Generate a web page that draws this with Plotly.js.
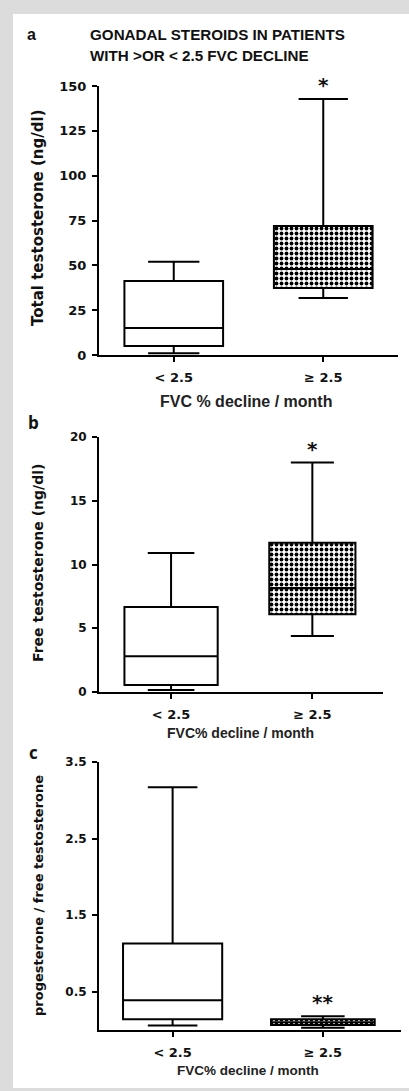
<!DOCTYPE html>
<html>
<head>
<meta charset="utf-8">
<script src="https://cdn.plot.ly/plotly-3.0.1.min.js"></script>
<style>html,body{margin:0;padding:0;background:#dcdcdc;}#chart{width:409px;height:1091px;}</style>
</head>
<body>
<div id="chart"></div>
<script>
// ---- data (five-number summaries: lowerfence, q1, median, q3, upperfence)
const groups = ['&lt; 2.5', '≥ 2.5'];
const totalT_low  = [1, 5, 15, 41.3, 52];
const totalT_high = [31.8, 37.4, 48, 72, 142.8];
const freeT_low   = [0.15, 0.55, 2.8, 6.67, 10.9];
const freeT_high  = [4.4, 6.1, 8.15, 11.7, 18.0];
const ratio_low   = [0.06, 0.14, 0.39, 1.13, 3.17];
const ratio_high  = [0.03, 0.065, 0.1, 0.14, 0.18];
const ticksA = [0, 25, 50, 75, 100, 125, 150];
const ticksB = [0, 5, 10, 15, 20];
const ticksC = [0.5, 1.5, 2.5, 3.5];

const W = 409, H = 1091;
const px = v => v / W;
const py = v => 1 - v / H;

function boxTrace(stats, pos, xa, ya, width, ww, fill) {
  return {
    type: 'box', x: [pos], xaxis: xa, yaxis: ya,
    lowerfence: [stats[0]], q1: [stats[1]], median: [stats[2]], q3: [stats[3]], upperfence: [stats[4]],
    width: width, whiskerwidth: ww, fillcolor: fill,
    line: {color: 'black', width: 2}, boxpoints: false, hoverinfo: 'skip', showlegend: false
  };
}
function patternBar(stats, pos, xa, ya, width) {
  return {
    type: 'bar', x: [pos], base: [stats[1]], y: [stats[3] - stats[1]], xaxis: xa, yaxis: ya,
    width: width, hoverinfo: 'skip', showlegend: false,
    marker: {color: 'white', line: {width: 0},
      pattern: {shape: '.', fgcolor: 'black', bgcolor: 'white', size: 5, solidity: 0.45}}
  };
}

const data = [
  patternBar(totalT_high, 1, 'x', 'y', 0.66),
  boxTrace(totalT_low, 0, 'x', 'y', 0.66, 0.52, 'white'),
  boxTrace(totalT_high, 1, 'x', 'y', 0.66, 0.5, 'rgba(0,0,0,0)'),
  patternBar(freeT_high, 1, 'x2', 'y2', 0.61),
  boxTrace(freeT_low, 0, 'x2', 'y2', 0.66, 0.5, 'white'),
  boxTrace(freeT_high, 1, 'x2', 'y2', 0.61, 0.5, 'rgba(0,0,0,0)'),
  patternBar(ratio_high, 1, 'x3', 'y3', 0.69),
  boxTrace(ratio_low, 0, 'x3', 'y3', 0.66, 0.5, 'white'),
  boxTrace(ratio_high, 1, 'x3', 'y3', 0.69, 0.42, 'rgba(0,0,0,0)')
];

const tickFont = s => ({family: 'DejaVu Sans', size: s, color: '#111', weight: 'bold'});
function yax(domain, range, tickvals, anchor, fs) {
  return {domain, range, tickvals, anchor, showline: true, linecolor: 'black', linewidth: 2,
    ticks: 'outside', ticklen: 5, tickwidth: 2, tickcolor: 'black', showgrid: false, zeroline: false,
    tickfont: tickFont(fs), ticklabelstandoff: 3, fixedrange: true};
}
function xax(domain, range, anchor, fs) {
  return {domain, range, anchor, tickvals: [0, 1], ticktext: groups, showline: true, linecolor: 'black',
    linewidth: 2, ticks: 'outside', ticklen: 5, tickwidth: 2, tickcolor: 'black', showgrid: false,
    zeroline: false, tickfont: tickFont(fs), ticklabelstandoff: 4, fixedrange: true};
}

const txt = (text, x, y, font, extra) => Object.assign({text, x: px(x), y: py(y), xref: 'paper', yref: 'paper',
  xanchor: 'center', yanchor: 'middle', showarrow: false, font}, extra || {});
const labFont = (fam, s, w, c) => ({family: fam, size: s, color: c || '#111', weight: w || 'bold'});

const annotations = [
  txt('a', 31, 35, labFont('Liberation Sans', 16)),
  txt('GONADAL STEROIDS IN PATIENTS', 88, 35, labFont('Liberation Sans', 15.2), {xanchor: 'left'}),
  txt('WITH &gt;OR &lt; 2.5 FVC DECLINE', 88, 55, labFont('Liberation Sans', 15.2), {xanchor: 'left'}),
  txt('Total testosterone (ng/dl)', 38, 218, labFont('DejaVu Sans', 15), {textangle: -90}),
  txt('FVC % decline / month', 246, 401, labFont('Liberation Sans', 16, 'bold', '#222')),
  txt('b', 33, 423, labFont('Open Sans', 17)),
  txt('Free testosterone (ng/dl)', 38, 563, labFont('DejaVu Sans', 14), {textangle: -90}),
  txt('FVC% decline / month', 240, 733, labFont('Liberation Sans', 14, 'bold', '#222')),
  txt('c', 33, 752, labFont('Open Sans', 17)),
  txt('progesterone / free testosterone', 38, 896, labFont('DejaVu Sans', 13), {textangle: -90}),
  txt('FVC% decline / month', 248, 1070, labFont('Liberation Sans', 13.5, 'bold', '#222')),
  {text: '*', xref: 'x', yref: 'y', x: 1, y: totalT_high[4], yanchor: 'bottom', yshift: 0, showarrow: false, font: labFont('DejaVu Sans', 20)},
  {text: '*', xref: 'x2', yref: 'y2', x: 1, y: freeT_high[4], yanchor: 'bottom', yshift: 0, showarrow: false, font: labFont('DejaVu Sans', 20)},
  {text: '**', xref: 'x3', yref: 'y3', x: 1, y: ratio_high[4], yanchor: 'bottom', yshift: 0, showarrow: false, font: labFont('DejaVu Sans', 20)}
];

const layout = {
  width: W, height: H, margin: {l: 0, r: 0, t: 0, b: 0},
  paper_bgcolor: '#dcdcdc', plot_bgcolor: 'rgba(0,0,0,0)', showlegend: false,
  xaxis:  xax([px(99), px(398)], [-0.5, 1.5], 'y', 13),
  yaxis:  yax([py(355), py(86)], [0, 150], ticksA, 'x', 13),
  xaxis2: xax([px(99), px(383)], [-0.51, 1.5], 'y2', 13),
  yaxis2: yax([py(692), py(437)], [0, 20], ticksB, 'x2', 12),
  xaxis3: xax([px(99), px(401)], [-0.49, 1.52], 'y3', 13),
  yaxis3: yax([py(1030), py(762)], [0, 3.5], ticksC, 'x3', 12),
  shapes: [{type: 'rect', xref: 'paper', yref: 'paper', x0: px(13), x1: 1, y0: py(1088), y1: py(14),
    fillcolor: 'white', line: {width: 0}, layer: 'below'}],
  annotations
};

Plotly.newPlot('chart', data, layout, {staticPlot: true, displayModeBar: false});
</script>
</body>
</html>
